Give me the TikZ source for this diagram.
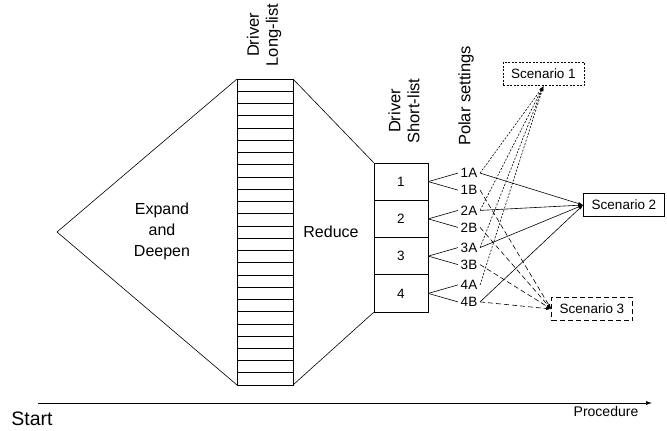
\documentclass[tikz,border=0pt]{standalone}
\usepackage{fontspec}
\setmainfont{Liberation Sans}
\usetikzlibrary{arrows.meta}
\begin{document}
\begin{tikzpicture}[x=1pt,y=-1pt,line width=0.6pt,
  shortbox/.style={draw,minimum width=54pt,minimum height=37.25pt,inner sep=0pt,font=\fontsize{13.5}{15}\selectfont},
  polar/.style={inner sep=2.5pt,font=\fontsize{13.5}{15}\selectfont},
  scen/.style={draw,minimum width=81pt,minimum height=23.5pt,inner sep=0pt,font=\fontsize{13.5}{15}\selectfont},
  rotlabel/.style={rotate=90,align=center,font=\fontsize{16.5}{19}\selectfont},
  big/.style={align=center,font=\fontsize{16}{21}\selectfont},
  fine/.style={dash pattern=on 2pt off 1.5pt},
  coarse/.style={dash pattern=on 5pt off 3pt},
  tip/.style={-{Latex[length=5pt,width=3pt]}}]
\useasboundingbox (0,0) rectangle (667,431);
% long list
\coordinate (LLtl) at (237,79);
\coordinate (LLbl) at (237,385);
\coordinate (LLtr) at (293,79);
\coordinate (LLbr) at (293,385);
\coordinate (Lpt) at (57,232);
\draw (LLtl) rectangle (LLbr);
\foreach \i in {1,...,24} {
  \draw (237,79+\i*12.24) -- (293,79+\i*12.24);
}
\draw (Lpt) -- (LLtl);
\draw (Lpt) -- (LLbl);
% short list
\node[shortbox] (b1) at (401,181.6) {1};
\node[shortbox] (b2) at (401,218.9) {2};
\node[shortbox] (b3) at (401,256.1) {3};
\node[shortbox] (b4) at (401,293.4) {4};
\draw (LLtr) -- (b1.north west);
\draw (LLbr) -- (b4.south west);
% labels
\node[big] (ed) at (162,231) {Expand\\and\\Deepen};
\node[big] (red) at (331,232) {Reduce};
\node[rotlabel] (ll) at (264,35) {Driver\\Long-list};
\node[rotlabel] (sl) at (404,111) {Driver\\Short-list};
\node[rotlabel] (ps) at (466,96) {Polar settings};
% polar settings
\node[polar] (p1A) at (469,173.1) {1A};
\node[polar] (p1B) at (469,190.1) {1B};
\node[polar] (p2A) at (469,210.4) {2A};
\node[polar] (p2B) at (469,227.4) {2B};
\node[polar] (p3A) at (469,247.6) {3A};
\node[polar] (p3B) at (469,264.6) {3B};
\node[polar] (p4A) at (469,284.9) {4A};
\node[polar] (p4B) at (469,301.9) {4B};
\foreach \n in {1,2,3,4} {
  \draw (b\n.east) -- (p\n A.west);
  \draw (b\n.east) -- (p\n B.west);
}
% scenarios
\node[scen,fine] (s1) at (543.5,74) {Scenario 1};
\node[scen] (s2) at (624,205) {Scenario 2};
\node[scen,coarse] (s3) at (592,309) {Scenario 3};
\foreach \p in {p1A,p2A,p3A,p4A} {
  \draw[fine,tip] (\p.east) -- (s1.south);
}
\foreach \p in {p1A,p2A,p3A,p4B} {
  \draw[tip] (\p.east) -- (s2.west);
}
\foreach \p in {p1B,p2B,p3B,p4B} {
  \draw[coarse,tip] (\p.east) -- (s3.west);
}
% axis
\coordinate (ax0) at (38,403);
\coordinate (ax1) at (652,403);
\draw[-{Latex[length=6pt,width=4pt]}] (ax0) -- (ax1);
\node[font=\fontsize{19.5}{21}\selectfont] (start) at (32,419) {Start};
\node[font=\fontsize{14}{16}\selectfont] (proc) at (606,411) {Procedure};
\end{tikzpicture}
\end{document}
